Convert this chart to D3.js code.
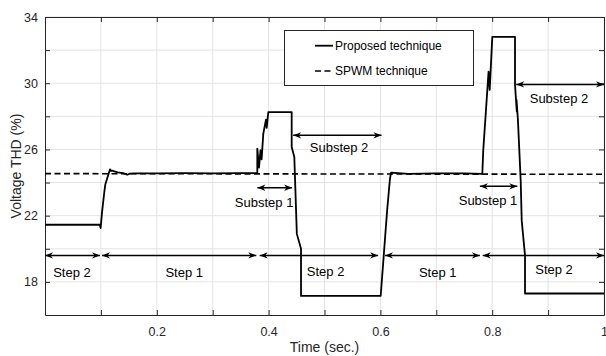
<!DOCTYPE html>
<html lang="en">
<head>
    <meta charset="UTF-8">
    <title>Voltage THD</title>
    <script src="https://d3js.org/d3.v7.min.js"></script>
    <style>
        body { margin: 0; background: white; font-family: "Liberation Sans", Arial, Helvetica, sans-serif; }
        svg { display: block; }
    </style>
</head>
<body>
    <svg id="vis"></svg>
    <script>
        // proposed technique trace (time in s, THD in %)
        const proposedT = [0, 0.098, 0.0995, 0.102, 0.106, 0.108, 0.1163, 0.118, 0.12, 0.124, 0.13, 0.14, 0.147, 0.152,
            0.16, 0.2, 0.25, 0.3, 0.35, 0.3798, 0.3798, 0.3828, 0.3855, 0.3875, 0.3905, 0.3953, 0.3966, 0.3995,
            0.4413, 0.4413, 0.446, 0.4505, 0.458, 0.458, 0.6005, 0.606, 0.612, 0.617, 0.619, 0.65, 0.7, 0.75,
            0.7823, 0.784, 0.7845, 0.7935, 0.7955, 0.8002, 0.8408, 0.8408, 0.844, 0.8435, 0.846, 0.851, 0.8528,
            0.8587, 0.8587, 1];
        const proposedV = [21.45, 21.45, 21.25, 22.2, 23.4, 23.9, 24.8, 24.7, 24.72, 24.68, 24.62, 24.57, 24.47, 24.54,
            24.55, 24.56, 24.57, 24.55, 24.57, 24.57, 26.05, 24.9, 25.95, 25.4, 26.95, 27.8, 27.3, 28.26,
            28.26, 26.15, 25.54, 20.9, 20.0, 17.15, 17.15, 19.6, 22.3, 24.2, 24.6, 24.52, 24.55, 24.55,
            24.52, 25.95, 26.2, 30.7, 29.6, 32.8, 32.8, 29.9, 28.3, 29.0, 27.8, 24.1, 21.7,
            19.6, 17.3, 17.3];
        // SPWM technique (flat)
        const spwmT = [0, 1];
        const spwmV = [24.54, 24.5];

        const xTicks = [0.1, 0.2, 0.3, 0.4, 0.5, 0.6, 0.7, 0.8, 0.9, 1];
        const xLabels = [0.2, 0.4, 0.6, 0.8, 1];
        const yTicks = [18, 20, 22, 24, 26, 28, 30, 32, 34];
        const yLabels = [18, 22, 26, 30, 34];

        // step annotations
        const stepStart = [0, 0.1019, 0.384, 0.6082, 0.783];
        const stepEnd = [0.0984, 0.378, 0.596, 0.778, 1];
        const stepY = 19.6;
        const stepNames = ["Step 2", "Step 1", "Step 2", "Step 1", "Step 2"];
        const stepLabelX = [0.0483, 0.249, 0.502, 0.7025, 0.9106];
        const stepLabelY = [18.3, 18.3, 18.35, 18.3, 18.5];

        // substep annotations
        const subNames = ["Substep 1", "Substep 2", "Substep 1", "Substep 2"];
        const subStart = [0.38, 0.444, 0.778, 0.843];
        const subEnd = [0.442, 0.602, 0.845, 1];
        const subY = [23.69, 26.85, 23.77, 29.93];
        const subLabelX = [0.392, 0.526, 0.7925, 0.9195];
        const subLabelY = [22.52, 25.84, 22.62, 28.83];

        const legendNames = ["Proposed technique", "SPWM technique"];

        const width = 606, height = 356;
        const margin = { top: 17, right: 2, bottom: 41, left: 45 };
        const svg = d3.select("#vis").attr("width", width).attr("height", height);

        const x = d3.scaleLinear().domain([0, 1]).range([margin.left, width - margin.right]);
        const y = d3.scaleLinear().domain([16, 34]).range([height - margin.bottom, margin.top]);
        const axisColor = "#262626";

        // grid
        svg.append("g").selectAll("line").data(xTicks).join("line")
            .attr("x1", d => x(d)).attr("x2", d => x(d))
            .attr("y1", y(16)).attr("y2", y(34))
            .attr("stroke", "#e3e3e3").attr("stroke-width", 1);
        svg.append("g").selectAll("line").data(yTicks).join("line")
            .attr("x1", x(0)).attr("x2", x(1))
            .attr("y1", d => y(d)).attr("y2", d => y(d))
            .attr("stroke", "#e3e3e3").attr("stroke-width", 1);

        // axes with inward ticks, box on
        const tickFmt = d => xLabels.includes(d) ? d3.format("~g")(d) : "";
        const yFmt = d => yLabels.includes(d) ? d : "";
        const axisFont = g => g.selectAll("text").attr("font-size", 12.5)
            .attr("font-family", "'Liberation Sans', Arial, sans-serif").attr("fill", axisColor);

        svg.append("g").attr("transform", `translate(0,${y(16)})`)
            .call(d3.axisBottom(x).tickValues(xTicks).tickFormat(tickFmt).tickSizeInner(-5).tickSizeOuter(0).tickPadding(12))
            .call(axisFont)
            .call(g => g.select(".domain").attr("stroke", axisColor))
            .call(g => g.selectAll(".tick line").attr("stroke", axisColor));
        svg.append("g").attr("transform", `translate(0,${y(34)})`)
            .call(d3.axisTop(x).tickValues(xTicks).tickFormat("").tickSizeInner(-5).tickSizeOuter(0))
            .call(g => g.select(".domain").attr("stroke", axisColor))
            .call(g => g.selectAll(".tick line").attr("stroke", axisColor));
        svg.append("g").attr("transform", `translate(${x(0)},0)`)
            .call(d3.axisLeft(y).tickValues(yTicks).tickFormat(yFmt).tickSizeInner(-5).tickSizeOuter(0).tickPadding(7))
            .call(axisFont)
            .call(g => g.select(".domain").attr("stroke", axisColor))
            .call(g => g.selectAll(".tick line").attr("stroke", axisColor));
        svg.append("g").attr("transform", `translate(${x(1)},0)`)
            .call(d3.axisRight(y).tickValues(yTicks).tickFormat("").tickSizeInner(-5).tickSizeOuter(0))
            .call(g => g.select(".domain").attr("stroke", axisColor))
            .call(g => g.selectAll(".tick line").attr("stroke", axisColor));

        // axis titles
        svg.append("text")
            .attr("x", (x(0) + x(1)) / 2).attr("y", 352)
            .attr("text-anchor", "middle").attr("font-size", 14).attr("fill", axisColor)
            .text("Time (sec.)");
        svg.append("text")
            .attr("transform", `translate(20.5,${(y(16) + y(34)) / 2}) rotate(-90)`)
            .attr("text-anchor", "middle").attr("font-size", 14).attr("fill", axisColor)
            .text("Voltage THD (%)");

        // data lines
        const line = d3.line().x(d => x(d[0])).y(d => y(d[1]));
        svg.append("path")
            .datum(spwmT.map((t, i) => [t, spwmV[i]]))
            .attr("d", line).attr("fill", "none").attr("stroke", "black")
            .attr("stroke-width", 1.6).attr("stroke-dasharray", "6,3.5");
        svg.append("path")
            .datum(proposedT.map((t, i) => [t, proposedV[i]]))
            .attr("d", line).attr("fill", "none").attr("stroke", "black")
            .attr("stroke-width", 1.8).attr("stroke-linejoin", "round");

        // arrow heads
        const defs = svg.append("defs");
        defs.append("marker").attr("id", "head")
            .attr("markerUnits", "userSpaceOnUse")
            .attr("viewBox", "0 -5 10 10").attr("refX", 10).attr("refY", 0)
            .attr("markerWidth", 10).attr("markerHeight", 8).attr("orient", "auto-start-reverse")
            .append("path").attr("d", "M0,-4L10,0L0,4L3,0Z").attr("fill", "black");

        function doubleArrow(x1, x2, yv) {
            svg.append("line")
                .attr("x1", x(x1)).attr("x2", x(x2)).attr("y1", y(yv)).attr("y2", y(yv))
                .attr("stroke", "black").attr("stroke-width", 1.5)
                .attr("marker-start", "url(#head)").attr("marker-end", "url(#head)");
        }

        stepStart.forEach((s, i) => doubleArrow(s, stepEnd[i], stepY));
        svg.append("g").selectAll("text").data(stepNames).join("text")
            .attr("x", (d, i) => x(stepLabelX[i])).attr("y", (d, i) => y(stepLabelY[i]))
            .attr("text-anchor", "middle").attr("font-size", 13).attr("fill", "black")
            .text(d => d);

        subStart.forEach((s, i) => doubleArrow(s, subEnd[i], subY[i]));
        svg.append("g").selectAll("text").data(subNames).join("text")
            .attr("x", (d, i) => x(subLabelX[i])).attr("y", (d, i) => y(subLabelY[i]))
            .attr("text-anchor", "middle").attr("font-size", 13).attr("fill", "black")
            .text(d => d);

        // legend
        const legend = svg.append("g");
        legend.append("rect")
            .attr("x", 284.5).attr("y", 30.5).attr("width", 189).attr("height", 55)
            .attr("fill", "white").attr("stroke", axisColor).attr("stroke-width", 1);
        legendNames.forEach((name, i) => {
            const ly = 45.7 + i * 25.3;
            legend.append("line")
                .attr("x1", 315).attr("x2", 333).attr("y1", ly).attr("y2", ly)
                .attr("stroke", "black").attr("stroke-width", i === 0 ? 1.8 : 1.6)
                .attr("stroke-dasharray", i === 0 ? null : "6,3.5");
            legend.append("text")
                .attr("x", 335).attr("y", ly + 4.2)
                .attr("font-size", 12).attr("fill", "black")
                .text(name);
        });
    </script>
</body>
</html>
